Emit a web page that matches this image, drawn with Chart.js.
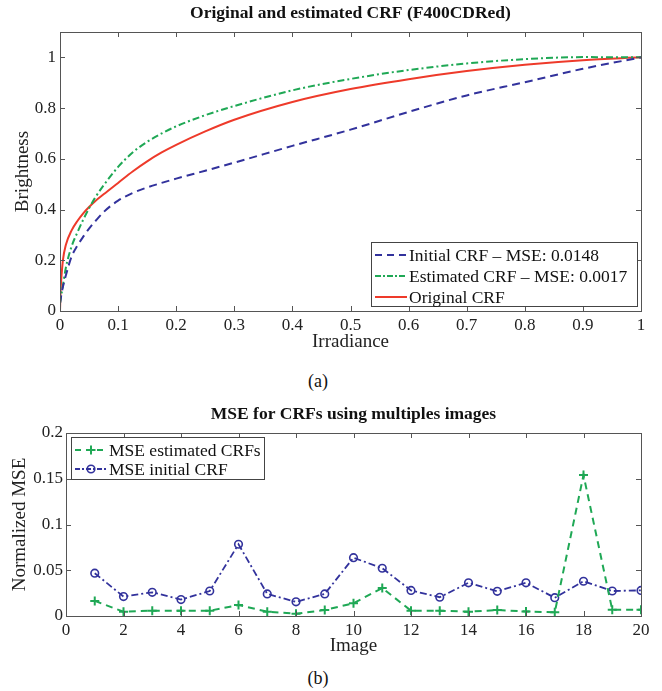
<!DOCTYPE html>
<html><head><meta charset="utf-8">
<script src="https://cdn.jsdelivr.net/npm/chart.js@4"></script>
<style>
body{margin:0;background:#fff;width:662px;height:691px;position:relative;overflow:hidden;font-family:"Liberation Serif",serif;}
canvas{position:absolute;left:0;}
.cap{position:absolute;width:60px;text-align:center;font-size:18px;line-height:20px;color:#111;font-family:"Liberation Serif",serif;}
</style></head><body>
<canvas id="c1" width="662" height="360" style="top:0"></canvas>
<canvas id="c2" width="662" height="265" style="top:400px"></canvas>
<div class="cap" style="left:288px;top:371px">(a)</div>
<div class="cap" style="left:288px;top:668px">(b)</div>
<script>
// ---------- data: chart (a) ----------
const crfIrradiance = [0,0.001,0.002,0.005,0.01,0.02,0.03,0.04,0.05,0.06,0.075,0.1,0.125,0.15,0.175,0.2,0.25,0.3,0.4,0.5,0.6,0.7,0.8,0.9,1.0];
const crfInitial    = [0.03,0.045,0.06,0.095,0.14,0.215,0.258,0.293,0.325,0.352,0.39,0.435,0.465,0.487,0.505,0.522,0.553,0.585,0.651,0.715,0.785,0.85,0.902,0.955,1.0];
const crfEstimated  = [0.03,0.045,0.06,0.1,0.17,0.255,0.31,0.36,0.405,0.445,0.495,0.568,0.625,0.667,0.7,0.728,0.772,0.808,0.87,0.915,0.95,0.976,0.993,1.001,1.0];
const crfOriginal   = [0,0.08,0.12,0.2,0.26,0.318,0.355,0.385,0.41,0.432,0.46,0.505,0.55,0.59,0.625,0.655,0.708,0.754,0.824,0.875,0.914,0.946,0.971,0.989,1.0];
const crfLabels     = ["Initial CRF \u2013 MSE: 0.0148","Estimated CRF \u2013 MSE: 0.0017","Original CRF"];
const crfXTicks     = [0,0.1,0.2,0.3,0.4,0.5,0.6,0.7,0.8,0.9,1];
const crfYTicks     = [0,0.2,0.4,0.6,0.8,1];

// ---------- data: chart (b) ----------
const imageIndex   = [1,2,3,4,5,6,7,8,9,10,11,12,13,14,15,16,17,18,19,20];
const mseEstimated = [0.0165,0.0047,0.0058,0.0058,0.0058,0.012,0.0047,0.0025,0.0065,0.014,0.0306,0.0058,0.0058,0.0047,0.0065,0.005,0.004,0.154,0.0068,0.0068];
const mseInitial   = [0.0468,0.0212,0.0259,0.018,0.0273,0.0784,0.0241,0.0155,0.0241,0.0637,0.0522,0.028,0.0205,0.0363,0.027,0.0363,0.020,0.038,0.0273,0.028];
const mseLabels    = ["MSE estimated CRFs","MSE initial CRF"];
const mseXTicks    = [0,2,4,6,8,10,12,14,16,18,20];
const mseYTicks    = [0,0.05,0.1,0.15,0.2];

const FONT = '"Liberation Serif", "Times New Roman", serif';
const BLUE = '#32329c', GREEN = '#1fa855', RED = '#ee3a2a';

const pts = (xs, ys) => xs.map((x, i) => ({x, y: ys[i]}));

const framePlugin = {
  id: 'frame',
  afterDatasetsDraw(chart, args, opts) {
    const {ctx, chartArea: a, scales: {x, y}} = chart;
    ctx.save();
    ctx.strokeStyle = '#555';
    ctx.lineWidth = 1;
    ctx.strokeRect(Math.round(a.left) + 0.5, Math.round(a.top) + 0.5, Math.round(a.right - a.left), Math.round(a.bottom - a.top));
    const L = 5;
    ctx.beginPath();
    x.ticks.forEach(t => {
      const px = Math.round(x.getPixelForValue(t.value)) + 0.5;
      ctx.moveTo(px, a.bottom); ctx.lineTo(px, a.bottom - L);
      ctx.moveTo(px, a.top); ctx.lineTo(px, a.top + L);
    });
    y.ticks.forEach(t => {
      const py = Math.round(y.getPixelForValue(t.value)) + 0.5;
      ctx.moveTo(a.left, py); ctx.lineTo(a.left + L, py);
      ctx.moveTo(a.right, py); ctx.lineTo(a.right - L, py);
    });
    ctx.stroke();
    // legend box
    const lg = opts.legend;
    ctx.fillStyle = '#fff';
    ctx.fillRect(lg.x, lg.y, lg.w, lg.h);
    ctx.strokeStyle = '#444';
    ctx.strokeRect(lg.x + 0.5, lg.y + 0.5, lg.w, lg.h);
    ctx.font = lg.font;
    ctx.textBaseline = 'middle';
    ctx.textAlign = 'left';
    chart.data.datasets.forEach((ds, i) => {
      const ry = lg.row0 + i * lg.rowH;
      ctx.save();
      ctx.strokeStyle = ds.borderColor;
      ctx.lineWidth = ds.borderWidth;
      ctx.setLineDash(ds.legendDash || ds.borderDash || []);
      ctx.beginPath();
      ctx.moveTo(lg.s0, ry); ctx.lineTo(lg.s1, ry);
      ctx.stroke();
      ctx.setLineDash([]);
      const mx = (lg.s0 + lg.s1) / 2;
      if (ds.pointStyle === 'circle' && ds.pointRadius > 0) {
        ctx.lineWidth = ds.pointBorderWidth || 1.5;
        ctx.beginPath(); ctx.arc(mx, ry, ds.pointRadius, 0, Math.PI * 2); ctx.stroke();
      } else if (ds.pointStyle === 'cross' && ds.pointRadius > 0) {
        ctx.lineWidth = ds.pointBorderWidth || 2;
        const r = ds.pointRadius;
        ctx.beginPath(); ctx.moveTo(mx - r, ry); ctx.lineTo(mx + r, ry); ctx.moveTo(mx, ry - r); ctx.lineTo(mx, ry + r); ctx.stroke();
      }
      ctx.restore();
      ctx.fillStyle = '#111';
      ctx.fillText(ds.label, lg.tx, ry + 1);
    });
    ctx.restore();
  }
};

function axes(xTicks, yTicks, xmin, xmax, ymin, ymax, o) {
  const tickFont = {family: FONT, size: 17};
  const titleFont = {family: FONT, size: 19};
  return {
    x: {
      type: 'linear', min: xmin, max: xmax,
      afterBuildTicks: s => { s.ticks = xTicks.map(v => ({value: v})); },
      afterFit: s => { s.height = o.xh; },
      grid: {display: false, drawTicks: false}, border: {display: false},
      ticks: {font: tickFont, color: '#222', padding: o.xpad, maxRotation: 0, autoSkip: false, callback: v => String(v)},
      title: {display: true, text: o.xtitle, font: titleFont, color: '#222', padding: {top: 0, bottom: o.xtpad}}
    },
    y: {
      type: 'linear', min: ymin, max: ymax,
      afterBuildTicks: s => { s.ticks = yTicks.map(v => ({value: v})); },
      afterFit: s => { s.width = o.yw; },
      grid: {display: false, drawTicks: false}, border: {display: false},
      ticks: {font: tickFont, color: '#222', padding: o.ypad, autoSkip: false, callback: v => String(v)},
      title: {display: true, text: o.ytitle, font: titleFont, color: '#222', padding: {top: o.ytpad, bottom: 0}}
    }
  };
}

new Chart(document.getElementById('c1'), {
  type: 'line',
  data: {
    datasets: [
      {label: crfLabels[0], data: pts(crfIrradiance, crfInitial), borderColor: BLUE, borderWidth: 2, borderDash: [8, 5], legendDash: [7, 5], pointRadius: 0, cubicInterpolationMode: 'monotone', fill: false},
      {label: crfLabels[1], data: pts(crfIrradiance, crfEstimated), borderColor: GREEN, borderWidth: 2, borderDash: [7, 3, 2, 3], legendDash: [6, 2, 2, 2], pointRadius: 0, cubicInterpolationMode: 'monotone', fill: false},
      {label: crfLabels[2], data: pts(crfIrradiance, crfOriginal), borderColor: RED, borderWidth: 2, pointRadius: 0, cubicInterpolationMode: 'monotone', fill: false}
    ]
  },
  options: {
    responsive: false, animation: false,
    layout: {padding: {left: 0, right: 21, top: 0, bottom: 0}},
    scales: axes(crfXTicks, crfYTicks, 0, 1, 0, 1.1, {xh: 49, xpad: 4, xtitle: 'Irradiance', xtpad: 7, yw: 60, ypad: 4, ytitle: 'Brightness', ytpad: 12}),
    plugins: {
      legend: {display: false},
      tooltip: {enabled: false},
      title: {display: true, fullSize: false, text: 'Original and estimated CRF (F400CDRed)', color: '#111', font: {family: FONT, size: 17.5, weight: 'bold'}, padding: {top: 3, bottom: 8}},
      frame: {legend: {x: 371, y: 242, w: 266, h: 64, row0: 255, rowH: 21, s0: 375, s1: 407, tx: 409, font: '17.5px ' + FONT}}
    }
  },
  plugins: [framePlugin]
});

new Chart(document.getElementById('c2'), {
  type: 'line',
  data: {
    datasets: [
      {label: mseLabels[0], data: pts(imageIndex, mseEstimated), borderColor: GREEN, borderWidth: 2, borderDash: [7, 5], legendDash: [6, 5], pointStyle: 'cross', pointRadius: 4.5, pointBorderWidth: 2, pointBorderColor: GREEN, backgroundColor: GREEN, tension: 0, fill: false},
      {label: mseLabels[1], data: pts(imageIndex, mseInitial), borderColor: BLUE, borderWidth: 1.8, borderDash: [7, 3, 2, 3], legendDash: [5, 2, 2, 2], pointStyle: 'circle', pointRadius: 3.8, pointBorderWidth: 1.6, pointBorderColor: BLUE, pointBackgroundColor: 'rgba(0,0,0,0)', backgroundColor: 'rgba(0,0,0,0)', tension: 0, fill: false}
    ]
  },
  options: {
    responsive: false, animation: false,
    layout: {padding: {left: 0, right: 21, top: 0, bottom: 0}},
    scales: axes(mseXTicks, mseYTicks, 0, 20, 0, 0.2, {xh: 49, xpad: 4, xtitle: 'Image', xtpad: 8, yw: 66, ypad: 3, ytitle: 'Normalized MSE', ytpad: 9}),
    plugins: {
      legend: {display: false},
      tooltip: {enabled: false},
      title: {display: true, fullSize: false, text: 'MSE for CRFs using multiples images', color: '#111', font: {family: FONT, size: 17.5, weight: 'bold'}, padding: {top: 4, bottom: 8}},
      frame: {legend: {x: 71, y: 37, w: 193, h: 42, row0: 50, rowH: 19, s0: 75, s1: 107, tx: 109, font: '17.5px ' + FONT}}
    }
  },
  plugins: [framePlugin]
});
</script>
</body></html>
